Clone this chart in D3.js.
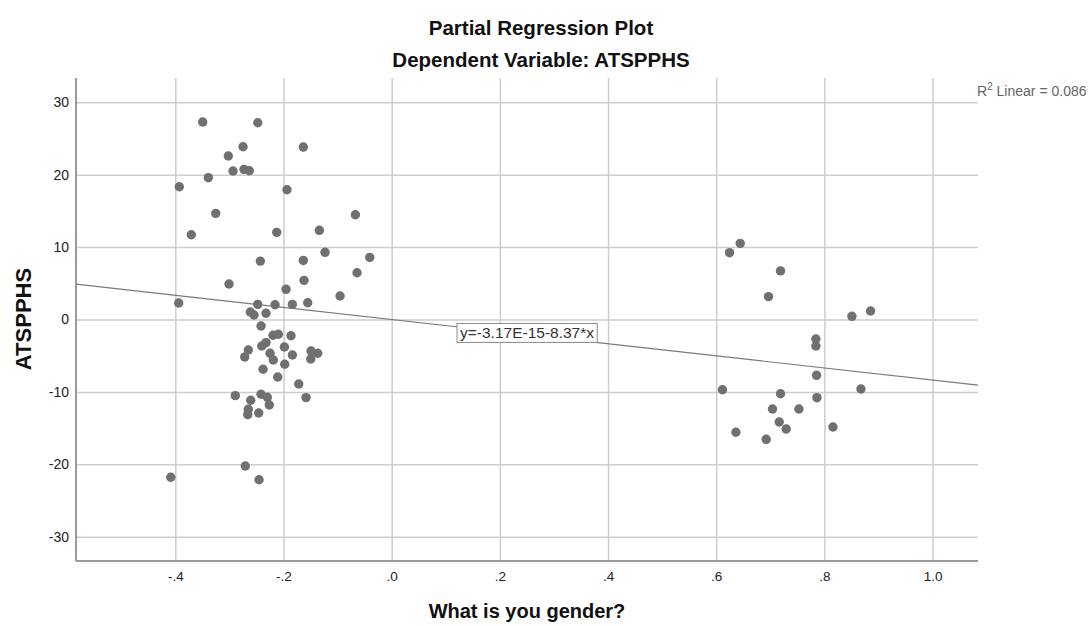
<!DOCTYPE html>
<html>
<head>
<meta charset="utf-8">
<script src="https://cdn.jsdelivr.net/npm/d3@7"></script>
<style>
  html, body { margin: 0; padding: 0; background: #ffffff; }
  svg { display: block; font-family: "Liberation Sans", Arial, sans-serif; }
</style>
</head>
<body>
<svg id="chart" width="1092" height="626"></svg>
<script>
// Partial regression residuals: gender (x) against ATSPPHS (y)
const genderResid = [
  -0.3494, -0.2476, -0.2748, -0.1633, -0.3020, -0.2933, -0.2730, -0.2632,
  -0.3390, -0.3926, -0.1935, -0.3253, -0.3704, -0.2125, -0.0671, -0.1337,
  -0.1232, -0.0405, -0.2428, -0.1633, -0.0640, -0.3007, -0.1620, -0.1953,
  -0.0954, -0.3937, -0.2476, -0.2156, -0.1836, -0.1552, -0.2613, -0.2545,
  -0.2323, -0.2415, -0.2193, -0.2095, -0.1861, -0.2402, -0.2323, -0.2650,
  -0.2717, -0.2249, -0.2188, -0.1984, -0.1836, -0.1491, -0.1367, -0.1496,
  -0.1977, -0.2378, -0.2107, -0.1718, -0.2891, -0.2606, -0.2415, -0.2299,
  -0.2262, -0.2650, -0.2661, -0.2458, -0.1583, -0.2706, -0.4085, -0.2452,
  0.6444, 0.6246, 0.7189, 0.6967, 0.8509, 0.8853, 0.7843, 0.7843,
  0.7855, 0.6116, 0.7189, 0.7862, 0.8676, 0.7041, 0.7529, 0.7165,
  0.7294, 0.8158, 0.6364, 0.6924
];
const atspphsResid = [
  27.28, 27.18, 23.86, 23.82, 22.58, 20.51, 20.74, 20.55,
  19.59, 18.34, 17.92, 14.66, 11.71, 12.04, 14.47, 12.32,
  9.28, 8.58, 8.07, 8.16, 6.46, 4.90, 5.41, 4.17,
  3.25, 2.28, 2.09, 2.04, 2.09, 2.31, 1.04, 0.62,
  0.86, -0.90, -2.18, -2.04, -2.24, -3.66, -3.20, -4.21,
  -5.18, -4.66, -5.59, -3.80, -4.90, -4.35, -4.66, -5.45,
  -6.18, -6.87, -7.94, -8.91, -10.52, -11.15, -10.33, -10.75,
  -11.81, -12.40, -13.14, -12.91, -10.79, -20.23, -21.79, -22.13,
  10.52, 9.23, 6.71, 3.16, 0.44, 1.17, -2.69, -3.66,
  -7.71, -9.70, -10.25, -10.80, -9.60, -12.36, -12.36, -14.16,
  -15.13, -14.85, -15.58, -16.55
];

// Fitted line y = b0 + b1 * x
const fitIntercept = -3.17e-15;
const fitSlope = -8.37;
const fitLabel = "y=-3.17E-15-8.37*x";
const rSquared = "0.086";

const xTicks = [-0.4, -0.2, 0.0, 0.2, 0.4, 0.6, 0.8, 1.0];
const xTickLabels = ["-.4", "-.2", ".0", ".2", ".4", ".6", ".8", "1.0"];
const yTicks = [-30, -20, -10, 0, 10, 20, 30];
const yTickLabels = ["-30", "-20", "-10", "0", "10", "20", "30"];

const xDomain = [-0.5836, 1.084];
const yDomain = [-33.36, 33.36];

const svg = d3.select("#chart");
const plotLeft = 76, plotRight = 978, plotTop = 78, plotBottom = 561;

const x = d3.scaleLinear().domain(xDomain).range([plotLeft, plotRight]);
const y = d3.scaleLinear().domain(yDomain).range([plotBottom, plotTop]);

const gridColor = "#cdcdcd";
const axisColor = "#9a9a9a";
const fontFam = "'Liberation Sans', Arial, sans-serif";

// Horizontal grid + y tick labels
const yAxis = d3.axisLeft(y)
  .tickValues(yTicks)
  .tickSize(-(plotRight - plotLeft))
  .tickPadding(7)
  .tickFormat((d, i) => yTickLabels[i]);
const gy = svg.append("g").attr("transform", `translate(${plotLeft},0)`).call(yAxis);
gy.select(".domain").remove();
gy.selectAll(".tick line").attr("stroke", gridColor).attr("stroke-width", 1.5);
gy.selectAll(".tick text").attr("fill", "#222").attr("font-size", 14)
  .attr("font-family", fontFam);

// Vertical grid + x tick labels
const xAxis = d3.axisBottom(x)
  .tickValues(xTicks)
  .tickSize(-(plotBottom - plotTop))
  .tickPadding(10)
  .tickFormat((d, i) => xTickLabels[i]);
const gx = svg.append("g").attr("transform", `translate(0,${plotBottom})`).call(xAxis);
gx.select(".domain").remove();
gx.selectAll(".tick line").attr("stroke", gridColor).attr("stroke-width", 1.5);
gx.selectAll(".tick text").attr("fill", "#222").attr("font-size", 13.5)
  .attr("font-family", fontFam);

// Axis lines (left and bottom only)
svg.append("line")
  .attr("x1", plotLeft).attr("x2", plotLeft).attr("y1", plotTop).attr("y2", plotBottom)
  .attr("stroke", axisColor).attr("stroke-width", 2);
svg.append("line")
  .attr("x1", plotLeft).attr("x2", plotRight).attr("y1", plotBottom).attr("y2", plotBottom)
  .attr("stroke", axisColor).attr("stroke-width", 2);

// Fit line across the plot
svg.append("line")
  .attr("x1", x(xDomain[0])).attr("y1", y(fitIntercept + fitSlope * xDomain[0]))
  .attr("x2", x(xDomain[1])).attr("y2", y(fitIntercept + fitSlope * xDomain[1]))
  .attr("stroke", "#7a7a7a").attr("stroke-width", 1.2);

// Points
svg.append("g").selectAll("circle")
  .data(genderResid.map((g, i) => [g, atspphsResid[i]]))
  .join("circle")
  .attr("cx", d => x(d[0]))
  .attr("cy", d => y(d[1]))
  .attr("r", 4.7)
  .attr("fill", "#707070");

// Equation label box
const eq = svg.append("g").attr("transform", `translate(527,333)`);
const eqText = eq.append("text")
  .attr("text-anchor", "middle").attr("dy", "0.35em")
  .attr("font-size", 15.5).attr("fill", "#333")
  .text(fitLabel);
const bb = eqText.node().getBBox();
eq.insert("rect", "text")
  .attr("x", bb.x - 3).attr("y", bb.y - 1)
  .attr("width", bb.width + 6).attr("height", bb.height + 2)
  .attr("fill", "#fff").attr("stroke", "#8a8a8a").attr("stroke-width", 1);

// R-squared annotation
const r2 = svg.append("text")
  .attr("x", 977).attr("y", 96)
  .attr("font-size", 14).attr("fill", "#666");
r2.append("tspan").text("R");
r2.append("tspan").attr("font-size", 10).attr("dy", -6).text("2");
r2.append("tspan").attr("dy", 6).text(" Linear = " + rSquared);

// Titles
svg.append("text")
  .attr("x", 541).attr("y", 35).attr("text-anchor", "middle")
  .attr("font-size", 20.5).attr("font-weight", "bold").attr("fill", "#111")
  .text("Partial Regression Plot");
svg.append("text")
  .attr("x", 541).attr("y", 67).attr("text-anchor", "middle")
  .attr("font-size", 20.5).attr("font-weight", "bold").attr("fill", "#111")
  .text("Dependent Variable: ATSPPHS");

// Axis titles
svg.append("text")
  .attr("x", 527).attr("y", 618).attr("text-anchor", "middle")
  .attr("font-size", 20).attr("font-weight", "bold").attr("fill", "#111")
  .text("What is you gender?");
svg.append("text")
  .attr("transform", "translate(31,319) rotate(-90)")
  .attr("text-anchor", "middle")
  .attr("font-size", 22).attr("font-weight", "bold").attr("fill", "#111")
  .text("ATSPPHS");
</script>
</body>
</html>
